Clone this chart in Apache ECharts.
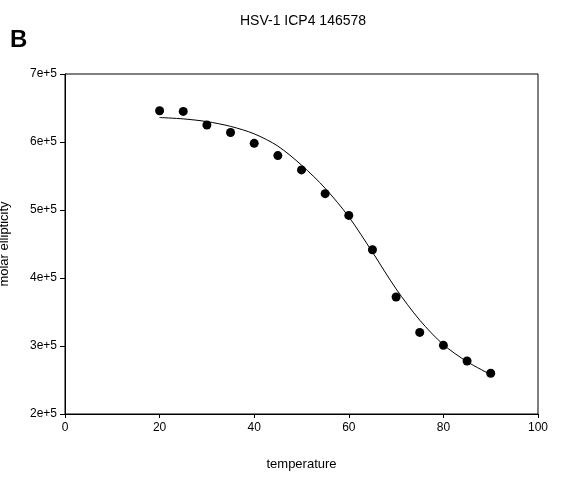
<!DOCTYPE html>
<html>
<head>
<meta charset="utf-8">
<script src="https://cdn.jsdelivr.net/npm/echarts@6/dist/echarts.min.js"></script>
<style>html,body{margin:0;padding:0;background:#fff}#c{width:564px;height:478px}</style>
</head>
<body>
<div id="c"></div>
<script>
var temperature = [20, 25, 30, 35, 40, 45, 50, 55, 60, 65, 70, 75, 80, 85, 90];
var ellipticity = [646000, 645000, 625000, 614000, 598000, 580000, 559000, 524000, 492000, 441500, 372000, 320000, 301000, 278000, 260000];
var fitTemperature = [20, 25, 30, 35, 40, 45, 50, 55, 60, 65, 70, 75, 80, 85, 90];
var fitEllipticity = [636000, 634000, 630000, 623000, 612000, 594000, 566000, 532000, 490000, 438000, 384000, 338000, 302000, 277000, 258000];
var yTicks = ['2e+5', '3e+5', '4e+5', '5e+5', '6e+5', '7e+5'];

var chart = echarts.init(document.getElementById('c'), null, {renderer: 'canvas'});
var font = 'Liberation Sans, Arial, sans-serif';
chart.setOption({
  animation: false,
  backgroundColor: '#fff',
  graphic: [
    {type: 'text', left: 240, top: 14, style: {text: 'HSV-1 ICP4 146578', font: '14px ' + font, fill: '#000'}},
    {type: 'text', left: 10, top: 28, style: {text: 'B', font: 'bold 24px ' + font, fill: '#000'}}
  ],
  grid: {left: 65, right: 26, top: 74, bottom: 64, show: true, borderColor: '#000', borderWidth: 1,
    backgroundColor: 'transparent', containLabel: false, outerBoundsMode: 'none'},
  xAxis: {
    type: 'value', min: 0, max: 100, interval: 20,
    name: 'temperature', nameLocation: 'middle', nameGap: 44,
    nameTextStyle: {fontFamily: font, fontSize: 13, color: '#000'},
    axisLine: {lineStyle: {color: '#000', width: 1}},
    axisTick: {inside: false, length: 4, lineStyle: {color: '#000'}},
    axisLabel: {fontFamily: font, fontSize: 12, color: '#000', margin: 8},
    splitLine: {show: false}
  },
  yAxis: {
    type: 'value', min: 200000, max: 700000, interval: 100000,
    name: 'molar ellipticity', nameLocation: 'middle', nameGap: 54, nameRotate: 90,
    nameTextStyle: {fontFamily: font, fontSize: 13, color: '#000'},
    axisLine: {lineStyle: {color: '#000', width: 1}},
    axisTick: {inside: false, length: 5, lineStyle: {color: '#000'}},
    axisLabel: {fontFamily: font, fontSize: 12, color: '#000', margin: 8,
      formatter: function (v) { return yTicks[Math.round((v - 200000) / 100000)]; }},
    splitLine: {show: false}
  },
  series: [
    {
      type: 'line', data: fitTemperature.map(function (t, i) { return [t, fitEllipticity[i]]; }),
      smooth: 0.3, showSymbol: false, symbol: 'none',
      lineStyle: {color: '#000', width: 1}, z: 2
    },
    {
      type: 'scatter', data: temperature.map(function (t, i) { return [t, ellipticity[i]]; }),
      symbol: 'circle', symbolSize: 9, itemStyle: {color: '#000', opacity: 1}, z: 3
    }
  ]
});
</script>
</body>
</html>
